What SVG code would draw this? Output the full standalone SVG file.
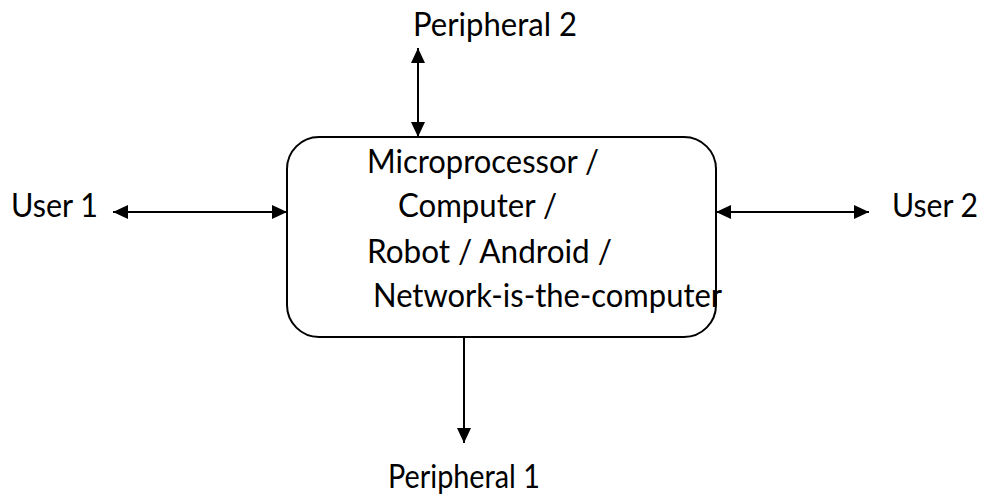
<svg xmlns="http://www.w3.org/2000/svg" width="987" height="503" viewBox="0 0 987 503">
<style>
.t{font-family:Lato,"Open Sans","Liberation Sans",sans-serif;font-size:32px;fill:#000}
.ln{stroke:#000;stroke-width:2;fill:none}
.box{stroke:#000;stroke-width:2;fill:#fff}
</style>
<defs>
<marker id="ah" markerUnits="userSpaceOnUse" markerWidth="16" markerHeight="14" refX="15" refY="7" orient="auto-start-reverse">
<path d="M0,0 L15,7 L0,14 Z" fill="#000"/>
</marker>
</defs>
<g id="connectors">
<line class="ln" x1="113" y1="212" x2="287" y2="212" marker-start="url(#ah)" marker-end="url(#ah)"/>
<line class="ln" x1="716" y1="212" x2="869" y2="212" marker-start="url(#ah)" marker-end="url(#ah)"/>
<line class="ln" x1="418" y1="48" x2="418" y2="137" marker-start="url(#ah)" marker-end="url(#ah)"/>
<line class="ln" x1="464" y1="337" x2="464" y2="443" marker-end="url(#ah)"/>
</g>
<g id="main">
<rect class="box" x="287" y="137" width="429" height="200" rx="32" ry="32"/>
<text class="t" x="367" y="173" textLength="232" lengthAdjust="spacingAndGlyphs">Microprocessor /</text>
<text class="t" x="398" y="217" textLength="159" lengthAdjust="spacingAndGlyphs">Computer /</text>
<text class="t" x="367" y="263" textLength="245" lengthAdjust="spacingAndGlyphs">Robot / Android /</text>
<text class="t" x="373" y="307" textLength="349" lengthAdjust="spacingAndGlyphs">Network-is-the-computer</text>
</g>
<g id="user1"><text class="t" x="11" y="217" textLength="87" lengthAdjust="spacingAndGlyphs">User  1</text></g>
<g id="user2"><text class="t" x="892" y="217" textLength="86" lengthAdjust="spacingAndGlyphs">User 2</text></g>
<g id="peripheral2"><text class="t" x="413" y="36" textLength="164" lengthAdjust="spacingAndGlyphs">Peripheral 2</text></g>
<g id="peripheral1"><text class="t" x="388" y="488" textLength="152" lengthAdjust="spacingAndGlyphs">Peripheral  1</text></g>
</svg>
